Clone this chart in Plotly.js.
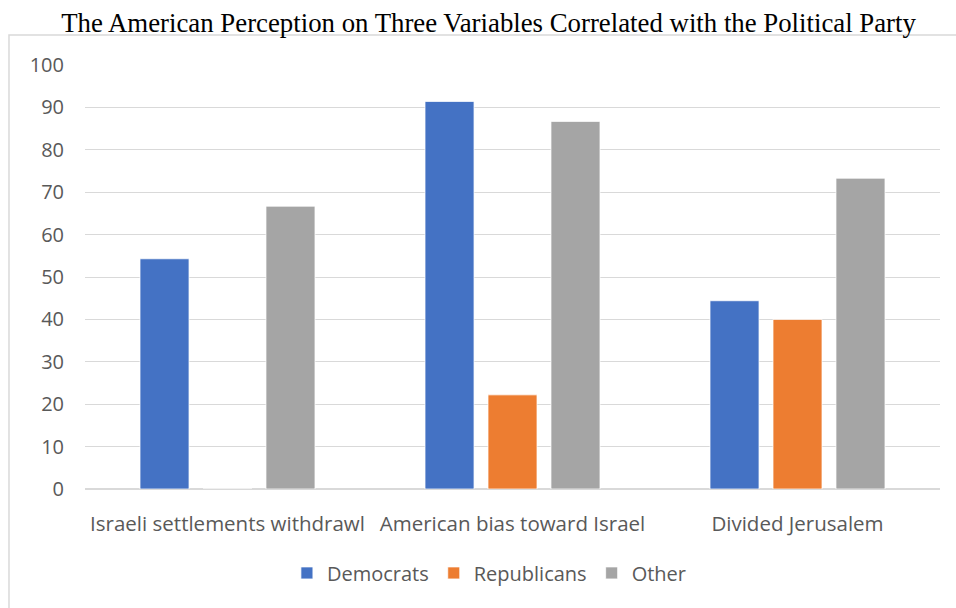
<!DOCTYPE html>
<html>
<head>
<meta charset="utf-8">
<script src="https://cdn.plot.ly/plotly-3.0.1.min.js"></script>
<style>html,body{margin:0;padding:0;background:#fff;}#chart{width:956px;height:608px;}</style>
</head>
<body>
<div id="chart"></div>
<script>
const categories = ["Israeli settlements withdrawl", "American bias toward Israel", "Divided Jerusalem"];
const democrats = [54.3, 91.4, 44.4];
const republicans = [0, 22.2, 40.0];
const other = [66.7, 86.7, 73.3];
const seriesNames = ["Democrats", "Republicans", "Other"];
const colors = ["#4472C4", "#ED7D31", "#A5A5A5"];

const font = "'Open Sans', 'Noto Sans', sans-serif";
const values = [democrats, republicans, other];
const traces = values.map((v, i) => ({
  type: "bar",
  name: seriesNames[i],
  x: categories,
  y: v,
  marker: {color: colors[i], line: {color: "#ffffff", width: 0.75}},
  hoverinfo: "y"
}));

const layout = {
  width: 956, height: 608,
  margin: {l: 85, r: 16, t: 65, b: 119},
  paper_bgcolor: "#ffffff", plot_bgcolor: "#ffffff",
  title: {text: "The American Perception on Three Variables Correlated with the Political Party",
          font: {family: "'Liberation Serif', 'Times New Roman', serif", size: 26.8, color: "#000000"},
          x: 0.511, xanchor: "center", y: 0.963, yanchor: "middle"},
  barmode: "group",
  bargap: 0.337,
  bargroupgap: 0.222,
  showlegend: true,
  legend: {orientation: "h", x: 0.473, xanchor: "center", y: -0.198, yanchor: "middle",
           font: {family: font, size: 20, color: "#595959"}, itemwidth: 30, traceorder: "normal"},
  xaxis: {tickfont: {family: font, size: 20.5, color: "#595959"}, showgrid: false,
          showline: false, zeroline: false, ticks: "outside", ticklen: 16, tickcolor: "rgba(0,0,0,0)"},
  yaxis: {range: [0, 100], dtick: 10, tick0: 0, showgrid: true, gridcolor: "#d9d9d9", gridwidth: 1,
          zeroline: true, zerolinecolor: "#d9d9d9", zerolinewidth: 1.5, showline: false,
          tickfont: {family: font, size: 20, color: "#595959"},
          ticks: "outside", ticklen: 16, tickcolor: "rgba(0,0,0,0)"},
  shapes: [{type: "rect", xref: "paper", yref: "paper",
            x0: -0.0889, x1: 1.03, y0: -0.32, y1: 1.0708,
            line: {color: "#d9d9d9", width: 1.5}, fillcolor: "rgba(0,0,0,0)", layer: "below"}]
};

Plotly.newPlot("chart", traces, layout, {displayModeBar: false, staticPlot: true});
</script>
</body>
</html>
